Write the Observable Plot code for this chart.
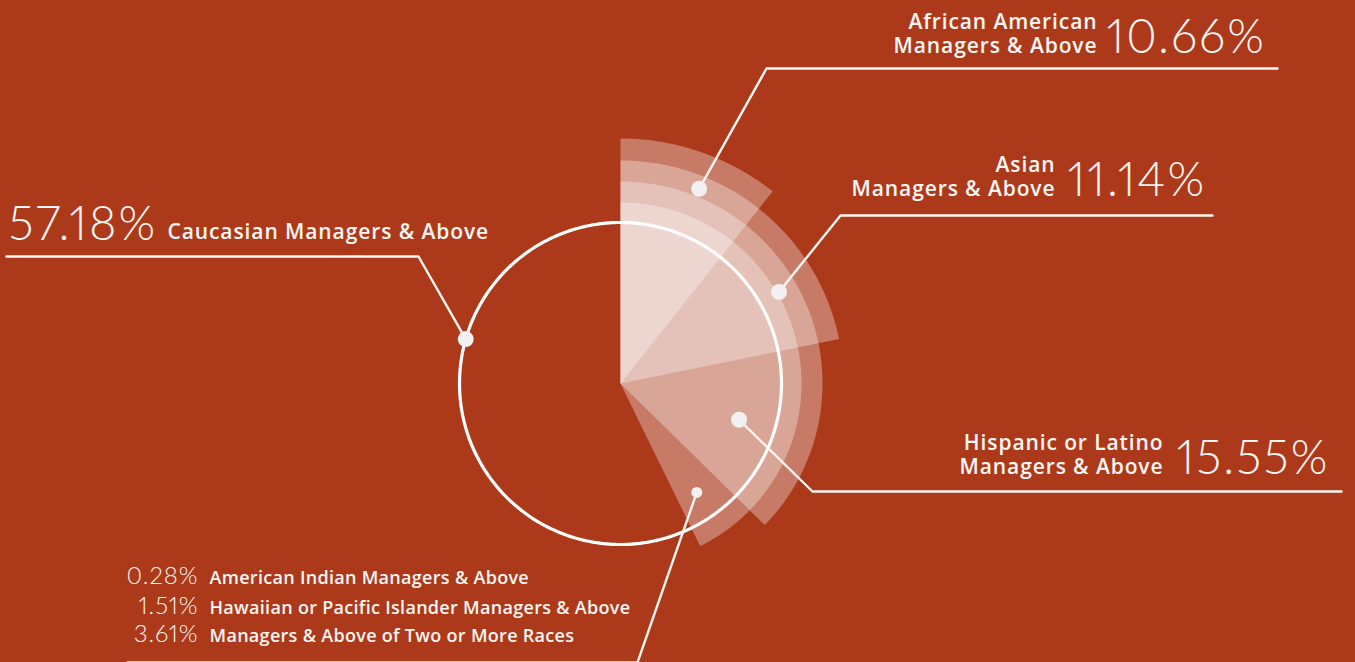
<!DOCTYPE html>
<html><head><meta charset="utf-8">
<script src="https://cdn.jsdelivr.net/npm/d3@7"></script>
<script src="https://cdn.jsdelivr.net/npm/@observablehq/plot@0.6"></script>
<style>
html,body{margin:0;padding:0;background:#AC3A1A;overflow:hidden}
#chart svg{display:block}
#chart g[font-family="Open Sans"] text{letter-spacing:0.9px}
#chart g[font-family="Open Sans"][font-size="18"] text{letter-spacing:0.3px}
#chart g[font-family="Lato"] text{font-variant-numeric:proportional-nums;font-feature-settings:"pnum" 1;letter-spacing:2px}
#chart g[font-family="Lato"][font-size="24"] text{letter-spacing:1px}
</style></head><body><div id="chart"></div>
<script>
// ---- data ----
const categories = ["Caucasian", "African American", "Asian", "Hispanic or Latino", "American Indian", "Hawaiian or Pacific Islander", "Two or More Races"];
const shares = [57.18, 10.66, 11.14, 15.55, 0.28, 1.51, 3.61];
const labels = [
  "Caucasian Managers & Above",
  "African American\nManagers & Above",
  "Asian\nManagers & Above",
  "Hispanic or Latino\nManagers & Above",
  "American Indian Managers & Above",
  "Hawaiian or Pacific Islander Managers & Above",
  "Managers & Above of Two or More Races"
];
const valueLabels = shares.map(v => v.toFixed(2) + "%");

// ---- layout (pixels) ----
const W = 1355, H = 662;
const cx = 620, cy = 383;
const circleR = 161;
const wedgeEnds = [1, 2, 3, 6];          // cumulative through category index
const wedgeRadii = [245, 223, 202, 181];
const wedgeFill = "white", wedgeOpacity = 0.33;
const ink = "#FBF6F3";
const dotFill = "#F1F1F1";
const bg = "#AC3A1A";

const callouts = [
  {i: 0, angle: 286, r: 161, dot: 8, elbow: [418, 256], end: [6, 256]},
  {i: 1, angle: 22, r: 210, dot: 8, elbow: [766, 68], end: [1277, 68]},
  {i: 2, angle: 60, r: 183, dot: 8, elbow: [840, 215], end: [1212, 215]},
  {i: 3, angle: 107, r: 124, dot: 8, elbow: [812, 491], end: [1341, 491]},
  {i: 6, angle: 145, r: 133, dot: 5.5, elbow: [637, 662], end: [127, 662]}
];
const polar = (deg, r) => [cx + r * Math.sin(deg * Math.PI / 180), cy - r * Math.cos(deg * Math.PI / 180)];

const wedgePts = [];
wedgeEnds.forEach((k, w) => {
  const cum = d3.sum(shares.slice(1, k + 1));
  const a1 = cum / 100 * 360;
  const R = wedgeRadii[w];
  wedgePts.push({w, x: cx, y: cy});
  const n = Math.max(2, Math.ceil(a1 * 2));
  for (let j = 0; j <= n; j++) {
    const [x, y] = polar(a1 * j / n, R);
    wedgePts.push({w, x, y});
  }
  wedgePts.push({w, x: cx, y: cy});
});
const ringPts = d3.range(0, 361, 1).map(a => { const [x, y] = polar(a, circleR); return {x, y}; });

const dots = callouts.map(c => { const [x, y] = polar(c.angle, c.r); return {x, y, size: c.dot}; });
const leaders = callouts.flatMap((c, j) => [
  {z: j, x: dots[j].x, y: dots[j].y},
  {z: j, x: c.elbow[0], y: c.elbow[1]},
  {z: j, x: c.end[0], y: c.end[1]}
]);

const bigLabels = [
  {i: 1, lx: 1097, nx: 1106, y: 52},
  {i: 2, lx: 1055, nx: 1067, y: 195},
  {i: 3, lx: 1163, nx: 1176, y: 473}
];
const smallRows = [{i: 4, y: 583}, {i: 5, y: 613}, {i: 6, y: 641}];

const labelFont = "Open Sans";
const numFont = "Lato";

const chart = Plot.plot({
  width: W, height: H,
  margin: 0,
  x: {domain: [0, W], range: [0, W], axis: null},
  y: {domain: [0, H], range: [0, H], axis: null},
  style: {background: bg, overflow: "visible"},
  marks: [
    Plot.line(wedgePts, {x: "x", y: "y", z: "w", fill: wedgeFill, fillOpacity: wedgeOpacity, stroke: "none", curve: "linear"}),
    Plot.line(ringPts, {x: "x", y: "y", stroke: "white", strokeWidth: 3.2, curve: "linear"}),
    Plot.line(leaders, {x: "x", y: "y", z: "z", stroke: ink, strokeWidth: 2.4, curve: "linear"}),
    Plot.dot(dots.filter(d => d.size === 8), {x: "x", y: "y", r: 8, fill: dotFill, stroke: "none"}),
    Plot.dot(dots.filter(d => d.size !== 8), {x: "x", y: "y", r: 5.5, fill: dotFill, stroke: "none"}),
    Plot.text(bigLabels, {x: "lx", y: "y", text: d => labels[d.i], textAnchor: "end", lineAnchor: "bottom", lineHeight: 1.12, fontSize: 21, fontWeight: 600, fontFamily: labelFont, fill: ink}),
    Plot.text(bigLabels, {x: "nx", y: "y", text: d => valueLabels[d.i], textAnchor: "start", lineAnchor: "bottom", fontSize: 47, fontWeight: 300, fontFamily: numFont, fill: ink}),
    Plot.text([{i: 0}], {x: () => 8, y: () => 239, text: d => valueLabels[d.i], textAnchor: "start", lineAnchor: "bottom", fontSize: 47, fontWeight: 300, fontFamily: numFont, fill: ink}),
    Plot.text([{i: 0}], {x: () => 167, y: () => 238, text: d => labels[d.i], textAnchor: "start", lineAnchor: "bottom", fontSize: 21, fontWeight: 600, fontFamily: labelFont, fill: ink}),
    Plot.text(smallRows, {x: () => 198, y: "y", text: d => valueLabels[d.i], textAnchor: "end", lineAnchor: "bottom", fontSize: 24, fontWeight: 300, fontFamily: numFont, fill: ink}),
    Plot.text(smallRows, {x: () => 209, y: "y", text: d => labels[d.i], textAnchor: "start", lineAnchor: "bottom", fontSize: 18, fontWeight: 600, fontFamily: labelFont, fill: ink})
  ]
});
document.getElementById("chart").appendChild(chart);
</script>
</body></html>
